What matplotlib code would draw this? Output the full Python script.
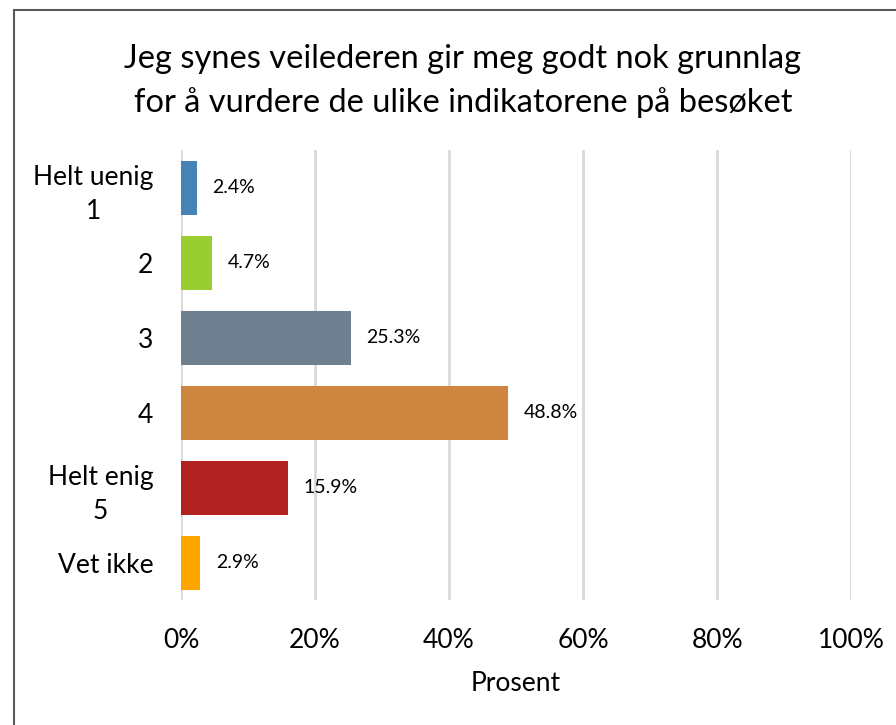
import matplotlib.pyplot as plt
from matplotlib.patches import Rectangle

categories = ['Helt uenig\n1', '2', '3', '4', 'Helt enig\n5', 'Vet ikke']
values = [2.4, 4.7, 25.3, 48.8, 15.9, 2.9]
colors = ['#4682B4', '#9ACD32', '#708090', '#CD853F', '#B22222', '#FFA500']
xticks = [0, 20, 40, 60, 80, 100]
title = 'Jeg synes veilederen gir meg godt nok grunnlag\nfor å vurdere de ulike indikatorene på besøket'

plt.rcParams['font.family'] = ['Lato', 'DejaVu Sans']


def main():
    fig = plt.figure(figsize=(8.96, 7.25), dpi=100)
    ax = fig.add_axes([0.202, 0.172, 0.748, 0.621])

    pos = list(range(len(categories)))
    ax.barh(pos, values, height=0.72, color=colors, zorder=3)
    for p, v in zip(pos, values):
        ax.text(v + 2.3, p, f'{v:.1f}%', va='center', ha='left', fontsize=14)

    ax.set_ylim(len(categories) - 0.5, -0.5)
    ax.set_xlim(0, 100)
    ax.set_yticks(pos)
    ax.set_yticklabels(categories, fontsize=19, ha='right',
                       multialignment='center', linespacing=1.45)
    ax.tick_params(axis='y', length=0, pad=20)
    ax.set_xticks(xticks)
    ax.set_xticklabels([f'{t}%' for t in xticks], fontsize=19)
    ax.tick_params(axis='x', length=0, pad=20)
    ax.grid(axis='x', color='#d9d9d9', linewidth=2, zorder=0)
    for s in ax.spines.values():
        s.set_visible(False)
    ax.set_xlabel('Prosent', fontsize=19, labelpad=13)

    fig.suptitle(title, fontsize=23.5, x=463 / 896, y=1 - 81 / 725,
                 va='center', linespacing=1.55)

    fig.patches.append(Rectangle((14 / 896, -0.1), 1.2, 1 - 10 / 725 + 0.1,
                                 transform=fig.transFigure, fill=False,
                                 edgecolor='#595959', linewidth=1.5))
    fig.savefig('out.png', dpi=100)


if __name__ == '__main__':
    main()
